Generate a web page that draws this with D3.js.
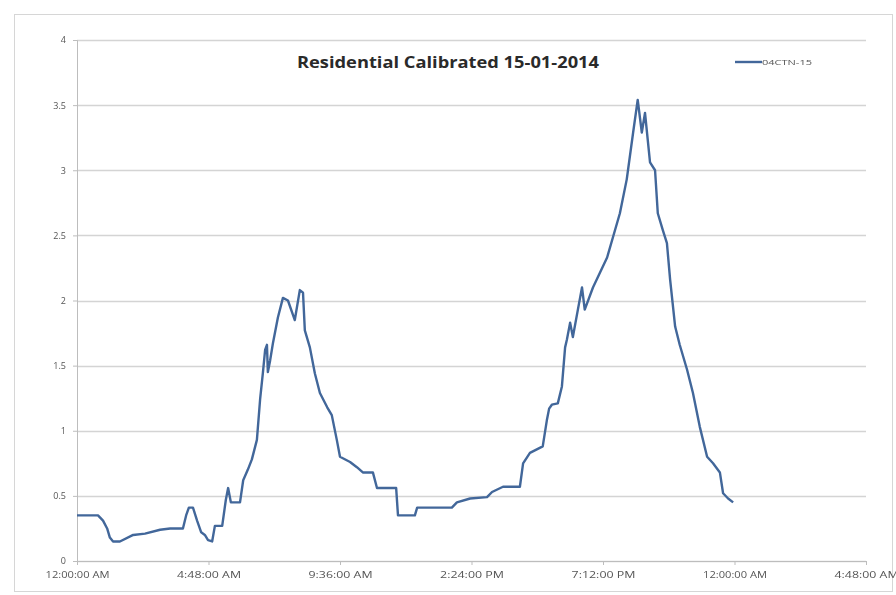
<!DOCTYPE html>
<html>
<head>
<meta charset="utf-8">
<script src="https://cdn.jsdelivr.net/npm/d3@7"></script>
<style>
  html, body { margin: 0; padding: 0; background: #fff; }
  svg { display: block; }
</style>
</head>
<body>
<svg id="chart" width="896" height="595"></svg>
<script>
// Load profile for one day, time in minutes after midnight, value in kW
const minutes = [0, 46, 57, 66, 72, 79, 94, 123, 149, 182, 204, 232, 239, 245, 254, 263, 272, 280, 287, 296,
  302, 318, 326, 331, 337, 357, 364, 374, 383, 394, 401, 407, 412, 416, 418, 423, 429, 440, 451, 462,
  477, 488, 495, 499, 510, 521, 532, 548, 558, 569, 576, 598, 613, 626, 648, 657, 699, 703, 740, 745,
  821, 832, 861, 898, 909, 933, 970, 977, 992, 1020, 1029, 1034, 1040, 1053, 1062, 1069, 1073, 1080, 1086, 1097,
  1106, 1112, 1130, 1161, 1189, 1204, 1218, 1228, 1237, 1244, 1255, 1266, 1272, 1283, 1292, 1299, 1310, 1320, 1336, 1349,
  1364, 1380, 1393, 1408, 1415, 1426, 1437];
const load = [0.35, 0.35, 0.31, 0.25, 0.18, 0.15, 0.15, 0.20, 0.21, 0.24, 0.25, 0.25, 0.35, 0.41, 0.41, 0.31, 0.22, 0.20, 0.16, 0.15,
  0.27, 0.27, 0.47, 0.56, 0.45, 0.45, 0.62, 0.70, 0.78, 0.93, 1.24, 1.44, 1.62, 1.66, 1.45, 1.54, 1.67, 1.87, 2.02, 2.00,
  1.85, 2.08, 2.06, 1.77, 1.64, 1.44, 1.29, 1.18, 1.12, 0.93, 0.80, 0.76, 0.72, 0.68, 0.68, 0.56, 0.56, 0.35, 0.35, 0.41,
  0.41, 0.45, 0.48, 0.49, 0.53, 0.57, 0.57, 0.75, 0.83, 0.88, 1.08, 1.17, 1.20, 1.21, 1.34, 1.64, 1.70, 1.83, 1.72, 1.93,
  2.10, 1.93, 2.10, 2.33, 2.67, 2.93, 3.29, 3.54, 3.29, 3.44, 3.06, 3.00, 2.67, 2.54, 2.44, 2.16, 1.80, 1.66, 1.47, 1.29,
  1.03, 0.80, 0.75, 0.68, 0.52, 0.48, 0.45];

const seriesName = "04CTN-15";
const chartTitle = "Residential Calibrated 15-01-2014";
// Axis ticks every 0.2 day (288 minutes)
const xTickMinutes = [0, 288, 576, 864, 1152, 1440, 1728];
const xTickLabels = ["12:00:00 AM", "4:48:00 AM", "9:36:00 AM", "2:24:00 PM", "7:12:00 PM", "12:00:00 AM", "4:48:00 AM"];
const yTicks = [0, 0.5, 1, 1.5, 2, 2.5, 3, 3.5, 4];
const yTickLabels = ["0", "0.5", "1", "1.5", "2", "2.5", "3", "3.5", "4"];

const data = minutes.map((m, i) => ({ t: m, v: load[i] }));

const svg = d3.select("#chart");
const font = "Open Sans, Liberation Sans, sans-serif";

// Soft focus for the small axis and legend text
const defs = svg.append("defs");
defs.append("filter").attr("id", "soft")
  .append("feGaussianBlur").attr("stdDeviation", 0.45);

// Chart area frame
svg.append("rect")
  .attr("x", 14.5).attr("y", 14.5)
  .attr("width", 878).attr("height", 577)
  .attr("fill", "#fff").attr("stroke", "#d6d6d6").attr("stroke-width", 1);

const plot = { left: 77, right: 866, top: 40, bottom: 561 };

const x = d3.scaleLinear().domain([0, 1728]).range([plot.left, plot.right]);
const y = d3.scaleLinear().domain([0, 4]).range([plot.bottom, plot.top]);

// Horizontal gridlines
svg.append("g")
  .selectAll("line")
  .data(yTicks)
  .join("line")
  .attr("x1", plot.left).attr("x2", plot.right)
  .attr("y1", d => Math.round(y(d)) + 0.5).attr("y2", d => Math.round(y(d)) + 0.5)
  .attr("stroke", "#d4d4d4").attr("stroke-width", 1.5);

// Y axis
const yAxis = d3.axisLeft(y)
  .tickValues(yTicks)
  .tickFormat((d, i) => yTickLabels[i])
  .tickSize(4)
  .tickPadding(7);
const gy = svg.append("g").attr("transform", `translate(${plot.left},0)`).call(yAxis);
gy.select(".domain").attr("stroke", "#bdbdbd");
gy.selectAll(".tick line").attr("stroke", "#bdbdbd");
gy.selectAll("text").attr("font-family", font).attr("font-size", 9).attr("fill", "#555")
  .attr("filter", "url(#soft)");

// X axis
const xAxis = d3.axisBottom(x)
  .tickValues(xTickMinutes)
  .tickFormat((d, i) => xTickLabels[i])
  .tickSize(4)
  .tickPadding(7);
const gx = svg.append("g").attr("transform", `translate(0,${plot.bottom})`).call(xAxis);
gx.select(".domain").attr("stroke", "#bdbdbd");
gx.selectAll(".tick line").attr("stroke", "#bdbdbd");
gx.selectAll("text").attr("font-family", font).attr("font-size", 9).attr("fill", "#555")
  .attr("textLength", 64).attr("lengthAdjust", "spacingAndGlyphs")
  .attr("filter", "url(#soft)");

// Load curve
const line = d3.line().x(d => x(d.t)).y(d => y(d.v));
svg.append("path")
  .datum(data)
  .attr("d", line)
  .attr("fill", "none")
  .attr("stroke", "#42679a")
  .attr("stroke-width", 2.4)
  .attr("stroke-linejoin", "round");

// Title
svg.append("text")
  .attr("x", 448).attr("y", 68)
  .attr("text-anchor", "middle")
  .attr("font-family", font)
  .attr("font-weight", "bold")
  .attr("font-size", 16.5)
  .attr("textLength", 302).attr("lengthAdjust", "spacingAndGlyphs")
  .attr("fill", "#2a2a2a")
  .text(chartTitle);

// Legend
const lg = svg.append("g").attr("transform", "translate(735,62)");
lg.append("line").attr("x1", 0).attr("x2", 27).attr("y1", 0).attr("y2", 0)
  .attr("stroke", "#42679a").attr("stroke-width", 2.4);
lg.append("text").attr("x", 27).attr("y", 3)
  .attr("font-family", font).attr("font-size", 8).attr("fill", "#555")
  .attr("textLength", 50).attr("lengthAdjust", "spacingAndGlyphs")
  .attr("filter", "url(#soft)")
  .text(seriesName);
</script>
</body>
</html>
